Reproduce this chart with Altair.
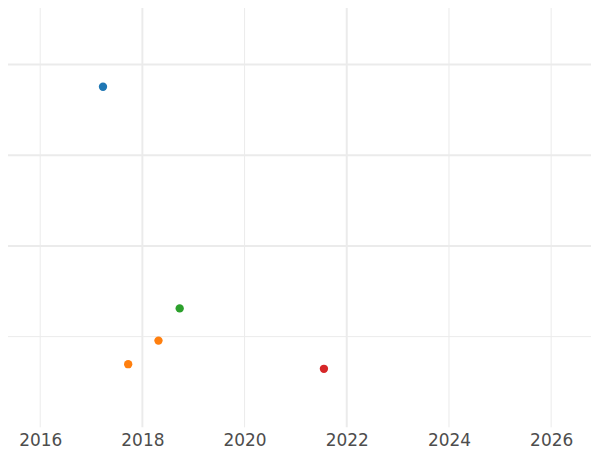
import altair as alt
import pandas as pd

# point data
years = [2017.229, 2017.722, 2018.315, 2018.73, 2021.553]
values = [3.755, 0.696, 0.956, 1.311, 0.645]
groups = ["A", "B", "B", "C", "D"]
group_names = ["A", "B", "C", "D"]
group_colors = ["#1f77b4", "#ff7f0e", "#2ca02c", "#d62728"]

# grid lines
major_x = [2018, 2022]
minor_x = [2016, 2020, 2024, 2026]
major_y = [2, 3, 4]
minor_y = [1]
tick_years = [2016, 2018, 2020, 2022, 2024, 2026]

x_domain = [2015.2335, 2026.78]
y_domain = [0, 4.692]

pts = pd.DataFrame({"year": years, "value": values, "group": groups})

xscale = alt.Scale(domain=x_domain, nice=False, zero=False)
yscale = alt.Scale(domain=y_domain, nice=False, zero=False)
xaxis = alt.Axis(values=tick_years, format="d", grid=False, domain=False,
                 ticks=False, labelFontSize=17, labelColor="#4d4d4d",
                 labelFont="DejaVu Sans", labelPadding=5, title=None)

grid_color = "#ebebeb"

vmaj = alt.Chart(pd.DataFrame({"x": major_x})).mark_rule(
    color=grid_color, strokeWidth=2).encode(
    x=alt.X("x:Q", scale=xscale, axis=xaxis))
vmin = alt.Chart(pd.DataFrame({"x": minor_x})).mark_rule(
    color=grid_color, strokeWidth=1).encode(
    x=alt.X("x:Q", scale=xscale, axis=xaxis))
hmaj = alt.Chart(pd.DataFrame({"y": major_y})).mark_rule(
    color=grid_color, strokeWidth=2).encode(
    y=alt.Y("y:Q", scale=yscale, axis=None))
hmin = alt.Chart(pd.DataFrame({"y": minor_y})).mark_rule(
    color=grid_color, strokeWidth=1).encode(
    y=alt.Y("y:Q", scale=yscale, axis=None))

points = alt.Chart(pts).mark_circle(size=70, opacity=1).encode(
    x=alt.X("year:Q", scale=xscale, axis=xaxis),
    y=alt.Y("value:Q", scale=yscale, axis=None),
    color=alt.Color("group:N", scale=alt.Scale(domain=group_names, range=group_colors),
                    legend=None),
)

chart = alt.layer(vmin, hmin, vmaj, hmaj, points).properties(
    width=592, height=427, background="white",
    padding={"left": -8, "top": -8, "right": 0, "bottom": 0}
).configure_view(stroke=None)

chart.save("out.html", embed_options={"renderer": "svg", "actions": False})
